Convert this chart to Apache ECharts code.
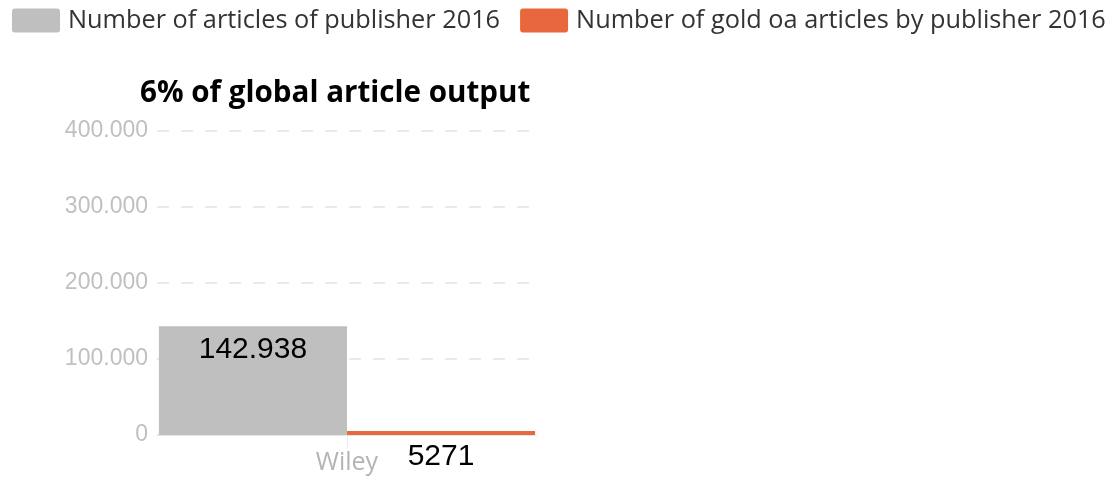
<!DOCTYPE html>
<html>
<head>
<meta charset="utf-8">
<script src="https://cdn.jsdelivr.net/npm/echarts@6/dist/echarts.min.js"></script>
<style>html,body{margin:0;padding:0;background:#fff;}#c{width:1116px;height:477px;}</style>
</head>
<body>
<div id="c"></div>
<script>
var categories = ['Wiley'];
var seriesNames = ['Number of articles of publisher 2016', 'Number of gold oa articles by publisher 2016'];
var totalArticles = [142938];
var goldOaArticles = [5271];
var yTicks = [0, 100000, 200000, 300000, 400000];
var titleText = '6% of global article output';

function fmt(v) {
  if (Math.abs(v) < 10000) return String(v);
  return String(v).replace(/\B(?=(\d{3})+(?!\d))/g, '.');
}

var legendIcon = 'path://M3,0 H45 Q48,0 48,3 V21 Q48,24 45,24 H3 Q0,24 0,21 V3 Q0,0 3,0 Z';

var chart = echarts.init(document.getElementById('c'));
chart.setOption({
  animation: false,
  title: {
    text: titleText,
    left: 135, top: 74,
    textStyle: { fontFamily: 'Open Sans', fontWeight: 'bold', fontSize: 29.6, color: '#000' }
  },
  legend: {
    left: 12, top: 8, padding: 0,
    itemWidth: 48, itemHeight: 24, itemGap: 20,
    icon: legendIcon,
    textStyle: { fontFamily: 'Open Sans', fontSize: 25.3, color: '#333', padding: [2, 0, 0, 3] },
    data: seriesNames
  },
  grid: { left: 157, right: 579, top: 131, bottom: 42 },
  xAxis: {
    type: 'category',
    data: categories,
    axisLine: { lineStyle: { color: '#e6e6e6', width: 1 } },
    axisTick: { show: true, alignWithLabel: true, length: 14, lineStyle: { color: '#ececec' } },
    axisLabel: { fontFamily: 'Open Sans', fontSize: 25, color: '#b4b4b4', margin: 15 }
  },
  yAxis: {
    type: 'value',
    min: yTicks[0], max: yTicks[yTicks.length - 1], interval: yTicks[1] - yTicks[0],
    axisLine: { show: false },
    axisTick: { show: false },
    axisLabel: { fontFamily: 'Liberation Sans', fontSize: 23, color: '#c0c0c0', margin: 9, formatter: fmt },
    splitLine: { lineStyle: { color: '#eaeaea', type: [12, 12], width: 2 } }
  },
  series: [
    {
      name: seriesNames[0], type: 'bar', data: totalArticles,
      barGap: '0%', barCategoryGap: '1%',
      itemStyle: { color: '#bfbfbf' },
      label: { show: true, position: 'insideTop', distance: 8, fontFamily: 'Liberation Sans', fontSize: 30, color: '#000',
               formatter: function (p) { return fmt(p.value); } }
    },
    {
      name: seriesNames[1], type: 'bar', data: goldOaArticles,
      barGap: '0%', barCategoryGap: '1%',
      itemStyle: { color: '#e9673d' },
      label: { show: true, position: 'insideTop', distance: 11, fontFamily: 'Liberation Sans', fontSize: 30, color: '#000',
               formatter: function (p) { return fmt(p.value); } }
    }
  ]
});
</script>
</body>
</html>
